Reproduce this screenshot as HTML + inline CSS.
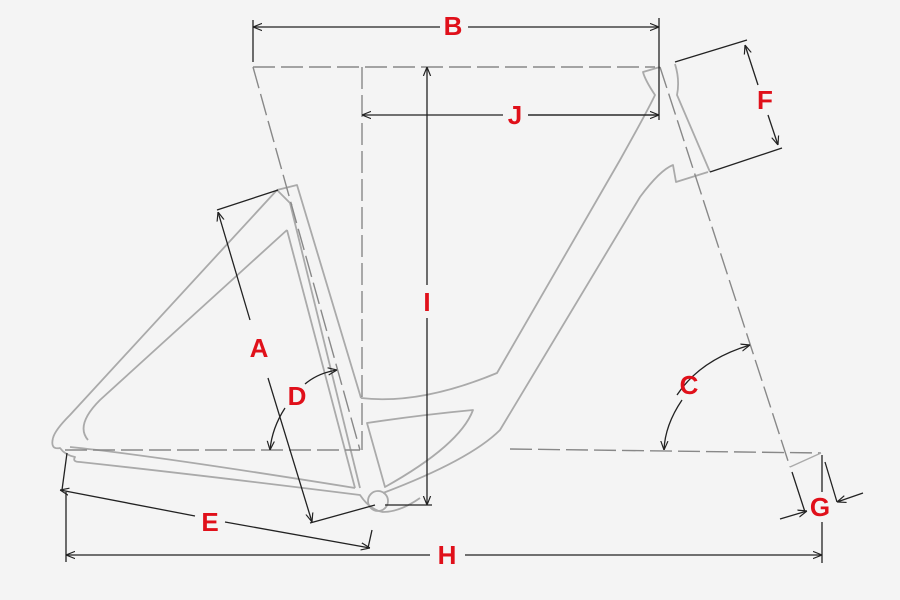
<!DOCTYPE html>
<html><head><style>html,body{margin:0;padding:0;background:#f4f4f4}svg{display:block}</style></head>
<body>
<svg width="900" height="600" viewBox="0 0 900 600" xmlns="http://www.w3.org/2000/svg">
<defs>
<marker id="ar" viewBox="0 0 10 10" refX="10" refY="5" markerWidth="9" markerHeight="9" orient="auto-start-reverse" markerUnits="userSpaceOnUse"><path d="M0,1 L10,5 L0,9" fill="none" stroke="#222" stroke-width="1.3"/></marker>
</defs>
<rect width="900" height="600" fill="#f4f4f4"/>
<!-- frame -->
<g fill="none" stroke="#aaa" stroke-width="1.8" stroke-linejoin="round">
<!-- seat tube -->
<path d="M277,190 L297,185 L361,398"/>
<path d="M277,190 L292,205"/>
<path d="M290,203 L360,488"/>
<path d="M287,230 L355,488"/>
<!-- top/down tube upper -->
<path d="M361,398 Q420,405 497,373 L620,160 Q648,110 655,95 Q645,80 643,72 L660,67"/>
<!-- down tube lower -->
<path d="M383,493 Q470,460 500,430 L640,197 Q660,170 673,165 L676,182 L708,172"/>
<!-- head tube -->
<path d="M675,64 Q680,80 677,95 L710,172"/>
<!-- inner triangle -->
<path d="M367,423 Q420,415 473,410 Q460,445 385,487 Z"/>
<!-- seat stay -->
<path d="M88,440 Q75,425 100,400 L287,230"/>
<path d="M53,438 Q55,430 70,415 L277,190"/>
<!-- chainstay -->
<path d="M53,438 Q50,450 60,448 Q65,455 75,457 Q72,462 80,462 Q200,475 360,495 Q370,510 383,512 Q400,512 420,498"/>
<path d="M70,447 Q150,455 355,488"/>
<circle cx="378" cy="501" r="10"/>
</g>
<!-- dashed construction -->
<g fill="none" stroke="#888" stroke-width="1.4" stroke-dasharray="22,6">
<path d="M253,67 L655,67"/>
<path d="M253,67 L360,450"/>
<path d="M362,67 L362,450"/>
<path d="M65,450 L360,450"/>
<path d="M510,449 L821,453"/>
<path d="M660,67 L790,467"/>
</g>
<path d="M790,467 L821,453" stroke="#aaa" stroke-width="1.3"/>
<!-- dimensions -->
<g fill="none" stroke="#222" stroke-width="1.3">
<path d="M253,20 L253,62 M659,18 L659,120"/>
<path d="M253,27 L440,27 M468,27 L659,27" marker-start="url(#ar)" marker-end="url(#ar)"/>
<path d="M362,115 L503,115 M528,115 L659,115" marker-start="url(#ar)"/>
<path d="M659,115 L528,115" marker-start="url(#ar)"/>
<path d="M427,67 L427,285 M427,318 L427,505" marker-start="url(#ar)" marker-end="url(#ar)"/>
<path d="M385,505 L432,505"/>
<path d="M675,62 L747,40 M710,172 L782,148"/>
<path d="M745,45 L758,85 M768,115 L778,145" marker-start="url(#ar)" marker-end="url(#ar)"/>
<path d="M217,210 L278,190 M310,523 L375,505"/>
<path d="M218,212 L250,320 M268,378 L312,522" marker-start="url(#ar)" marker-end="url(#ar)"/>
<path d="M62,490 L67,453 M372,530 L368,548"/>
<path d="M60,490 L195,516 M225,522 L370,548" marker-start="url(#ar)" marker-end="url(#ar)"/>
<path d="M66,555 L430,555 M465,555 L822,555" marker-start="url(#ar)" marker-end="url(#ar)"/>
<path d="M66,492 L66,562 M822,455 L822,492 M822,522 L822,563"/>
<path d="M792,472 L805,512 M825,462 L837,502"/>
<path d="M780,519 L807,511" marker-end="url(#ar)"/>
<path d="M863,493 L837,502" marker-end="url(#ar)"/>
<path d="M677,395 Q700,360 750,345" marker-end="url(#ar)"/>
<path d="M682,400 Q665,425 664,450" marker-end="url(#ar)"/>
<path d="M305,384 Q318,373 337,370" marker-end="url(#ar)"/>
<path d="M285,408 Q272,428 270,450" marker-end="url(#ar)"/>
</g>
<g font-family="Liberation Sans, sans-serif" font-weight="bold" font-size="26" fill="#e0101a" text-anchor="middle">
<text x="453" y="35">B</text>
<text x="515" y="124">J</text>
<text x="427" y="311">I</text>
<text x="765" y="109">F</text>
<text x="259" y="357">A</text>
<text x="297" y="405">D</text>
<text x="689" y="394">C</text>
<text x="210" y="531">E</text>
<text x="447" y="564">H</text>
<text x="820" y="516">G</text>
</g>
</svg>
</body></html>
